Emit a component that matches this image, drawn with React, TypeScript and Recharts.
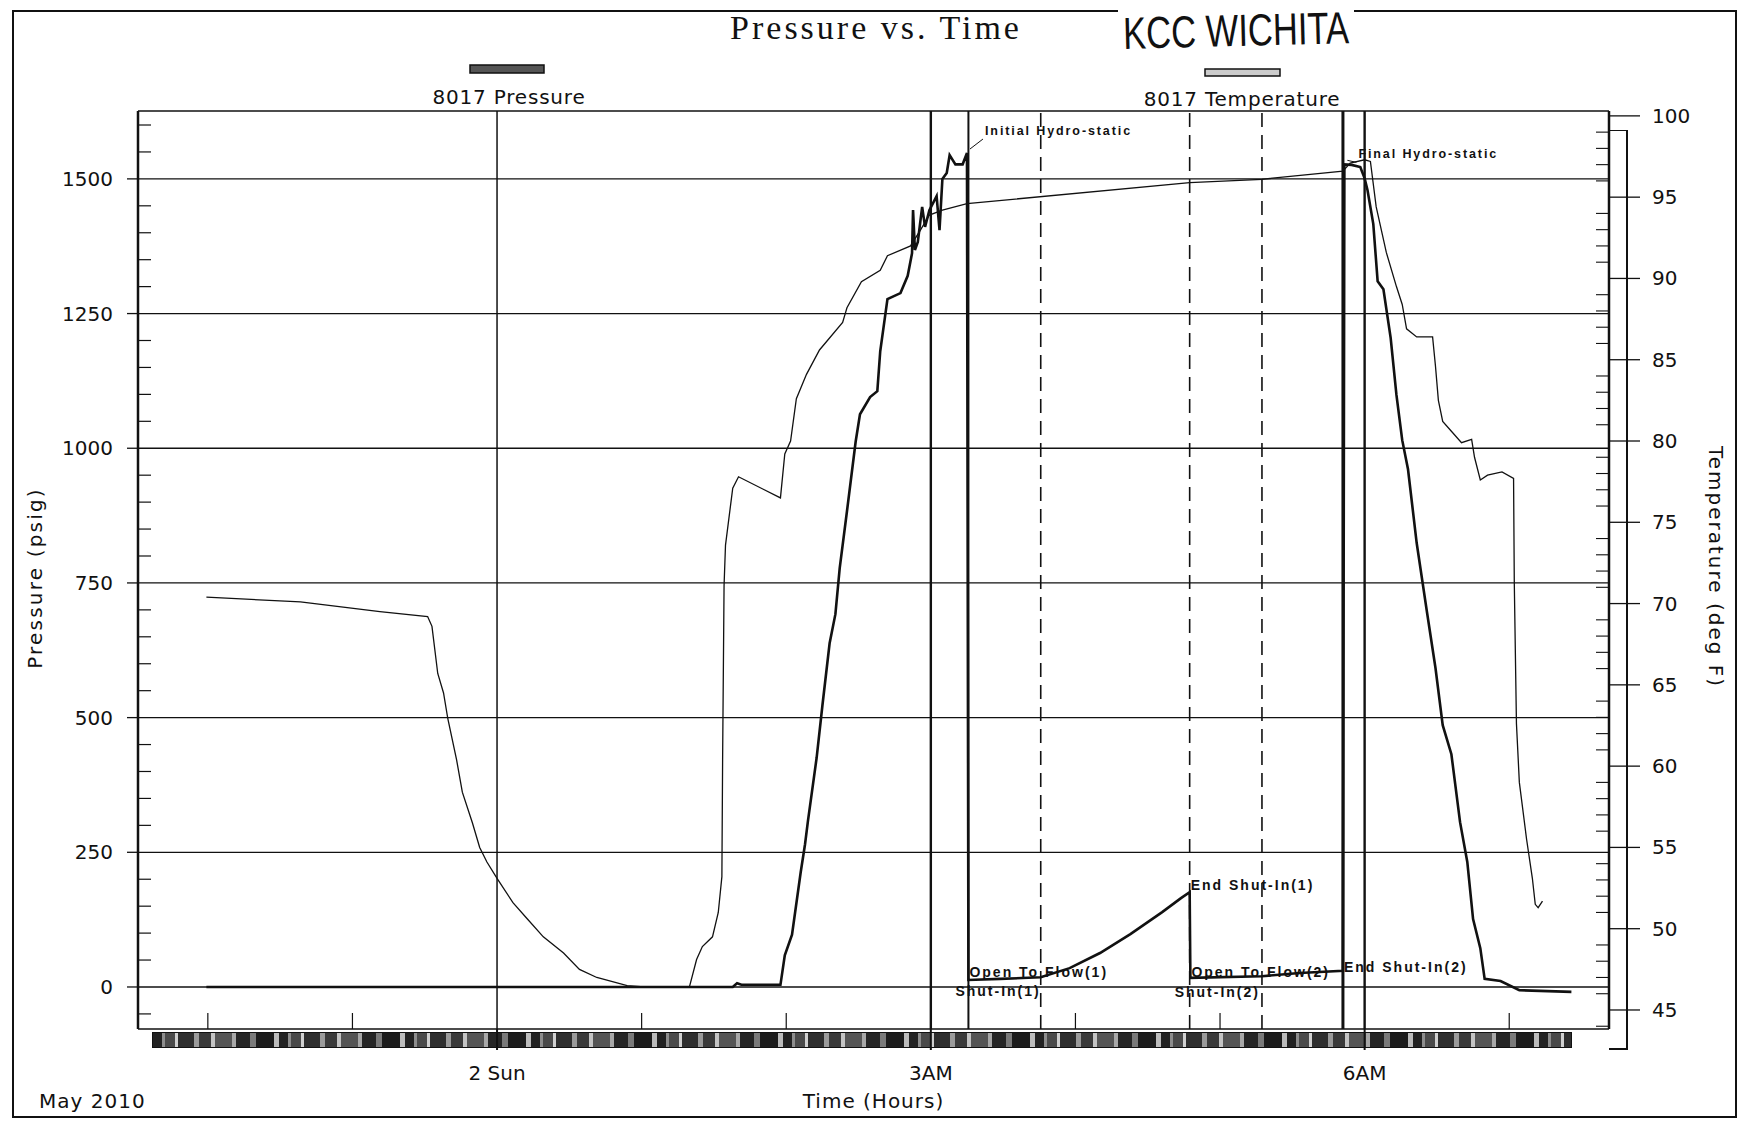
import { LineChart, Line, XAxis, YAxis, ReferenceLine, ReferenceDot } from "recharts";

// time axis: hours after midnight of Sun 2 May 2010
const timeTicks = [-2, -1, 0, 1, 2, 3, 4, 5, 6, 7];
const timeMajorTicks = [0, 3, 6];
const timeMajorLabels = ["2 Sun", "3AM", "6AM"];

const pressureMajorTicks = [0, 250, 500, 750, 1000, 1250, 1500];
const pressureTicks = [
  -50, 0, 50, 100, 150, 200, 250, 300, 350, 400, 450, 500, 550, 600, 650, 700, 750, 800, 850,
  900, 950, 1000, 1050, 1100, 1150, 1200, 1250, 1300, 1350, 1400, 1450, 1500, 1550, 1600,
];
const tempMajorTicks = [45, 50, 55, 60, 65, 70, 75, 80, 85, 90, 95, 100];
const tempTicks = [
  44, 45, 46, 47, 48, 49, 50, 51, 52, 53, 54, 55, 56, 57, 58, 59, 60, 61, 62, 63, 64, 65, 66, 67,
  68, 69, 70, 71, 72, 73, 74, 75, 76, 77, 78, 79, 80, 81, 82, 83, 84, 85, 86, 87, 88, 89, 90, 91,
  92, 93, 94, 95, 96, 97, 98, 99, 100,
];

// 8017 Pressure (psig)
const pressureHours = [
  -2.01, 1.63, 1.66, 1.69, 1.96, 1.99, 2.04, 2.1, 2.13, 2.15, 2.21, 2.25, 2.3, 2.34, 2.37, 2.42,
  2.48, 2.51, 2.58, 2.63, 2.65, 2.7, 2.79, 2.84, 2.87, 2.877, 2.89, 2.91, 2.94, 2.96, 2.99, 3.04,
  3.06, 3.08, 3.11, 3.13, 3.17, 3.22, 3.25, 3.26, 3.48, 3.76, 3.96, 4.17, 4.38, 4.6, 4.73, 4.79,
  4.795, 5.29, 5.55, 5.85, 5.86, 5.91, 5.97, 6.0, 6.02, 6.06, 6.09, 6.13, 6.18, 6.22, 6.26, 6.3,
  6.36, 6.43, 6.49, 6.54, 6.6, 6.66, 6.71, 6.75, 6.8, 6.83, 6.94, 7.07, 7.43,
];
const pressurePsig = [
  0, 0, 7, 4, 4, 59, 97, 213, 265, 308, 425, 522, 638, 692, 778, 883, 1012, 1063, 1095, 1106,
  1180, 1277, 1288, 1320, 1362, 1442, 1368, 1383, 1448, 1411, 1442, 1468, 1405, 1500, 1511, 1544,
  1527, 1527, 1548, 13, 15, 18, 35, 63, 98, 139, 165, 176, 17, 20, 26, 30, 1527, 1526, 1522, 1501,
  1479, 1416, 1310, 1295, 1205, 1099, 1015, 961, 824, 698, 592, 486, 432, 306, 232, 126, 72, 15,
  11, -6, -9,
];

// 8017 Temperature (deg F)
const tempHours = [
  -2.01, -1.36, -0.81, -0.48, -0.45, -0.41, -0.37, -0.34, -0.28, -0.24, -0.17, -0.12, -0.07, 0,
  0.11, 0.21, 0.32, 0.46, 0.57, 0.69, 0.9, 1.04, 1.33, 1.38, 1.42, 1.49, 1.53, 1.555, 1.56, 1.57,
  1.58, 1.63, 1.67, 1.96, 1.99, 2.03, 2.07, 2.14, 2.23, 2.39, 2.42, 2.52, 2.65, 2.7, 2.86, 2.93,
  2.99, 3.08, 3.25, 4.79, 5.29, 5.85, 5.9, 6.0, 6.04, 6.08, 6.15, 6.22, 6.26, 6.29, 6.36, 6.47,
  6.49, 6.51, 6.54, 6.6, 6.67, 6.74, 6.76, 6.8, 6.85, 6.95, 7.03, 7.035, 7.05, 7.07, 7.12, 7.16,
  7.18, 7.2, 7.23,
];
const tempDegF = [
  70.4, 70.1, 69.5, 69.2, 68.6, 65.7, 64.5, 62.9, 60.4, 58.4, 56.5, 55.0, 54.1, 53.1, 51.6, 50.6,
  49.5, 48.5, 47.5, 47.0, 46.5, 46.4, 46.4, 48.1, 48.9, 49.5, 51.0, 53.2, 60.4, 71.1, 73.6, 77.1,
  77.8, 76.5, 79.2, 80.0, 82.6, 84.1, 85.6, 87.3, 88.2, 89.8, 90.5, 91.4, 92.0, 93.0, 93.9, 94.2,
  94.6, 95.9, 96.1, 96.6, 97.1, 97.3, 97.2, 94.4, 91.6, 89.5, 88.4, 86.9, 86.4, 86.4, 84.6, 82.5,
  81.2, 80.6, 79.9, 80.1, 79.0, 77.6, 77.9, 78.1, 77.7, 71.3, 62.6, 59.0, 55.5, 53.1, 51.5, 51.3,
  51.7,
];

// test events (vertical markers)
const eventHours = [3.26, 3.76, 4.79, 5.29, 5.85];
const eventDashed = [false, true, true, true, false];

// annotations on the pressure trace
const annotationLabels = [
  "Initial Hydro-static",
  "Open To Flow(1)",
  "Shut-In(1)",
  "End Shut-In(1)",
  "Open To Flow(2)",
  "Shut-In(2)",
  "End Shut-In(2)",
  "Final Hydro-static",
];
const annotationHours = [3.25, 3.26, 3.76, 4.79, 4.795, 5.29, 5.85, 5.86];
const annotationPsig = [1548, 13, 18, 176, 17, 20, 30, 1527];

const annotationStyle = [
  { dx: 18, dy: -22, anchor: "start", size: 12.5, spacing: 1.9, leader: true },
  { dx: 1, dy: -8, anchor: "start", size: 14, spacing: 2, leader: false },
  { dx: 0, dy: 14, anchor: "end", size: 14, spacing: 2, leader: false },
  { dx: 1, dy: -7, anchor: "start", size: 14, spacing: 2, leader: false },
  { dx: 1, dy: -6, anchor: "start", size: 14, spacing: 2, leader: false },
  { dx: -2, dy: 16, anchor: "end", size: 14, spacing: 2, leader: false },
  { dx: 1, dy: -4, anchor: "start", size: 14, spacing: 2, leader: false },
  { dx: 14, dy: -10, anchor: "start", size: 12.5, spacing: 1.9, leader: true },
];

const pressureData = pressureHours.map((t, i) => ({ t, p: pressurePsig[i] }));
const tempData = tempHours.map((t, i) => ({ t, v: tempDegF[i] }));

const INK = "#111";
const SANS = "'DejaVu Sans', Verdana, sans-serif";
const ARIAL = "'Liberation Sans', Arial, sans-serif";

function PressureTick({ x, y, payload }: any) {
  const v = payload.value;
  if (pressureMajorTicks.includes(v)) {
    return (
      <g>
        <line x1={x - 11} x2={x} y1={y} y2={y} stroke={INK} strokeWidth={1.3} />
        <text x={x - 25} y={y} textAnchor="end" dominantBaseline="central" fontFamily={SANS} fontSize={20} fill={INK}>
          {v}
        </text>
      </g>
    );
  }
  return <line x1={x} x2={x + 13} y1={y} y2={y} stroke={INK} strokeWidth={1.2} />;
}

function TempTick({ x, y, payload }: any) {
  const v = payload.value;
  if (tempMajorTicks.includes(v)) {
    return (
      <g>
        <line x1={x} x2={x + 31} y1={y} y2={y} stroke={INK} strokeWidth={1.3} />
        <text x={x + 43} y={y} textAnchor="start" dominantBaseline="central" fontFamily={SANS} fontSize={20} fill={INK}>
          {v}
        </text>
      </g>
    );
  }
  return <line x1={x - 13} x2={x} y1={y} y2={y} stroke={INK} strokeWidth={1.1} />;
}

function TimeTick({ x, y, payload }: any) {
  const v = payload.value;
  const idx = timeMajorTicks.indexOf(v);
  if (idx >= 0) {
    return (
      <g>
        <line x1={x} x2={x} y1={y} y2={y + 21} stroke={INK} strokeWidth={2} />
        <text x={x} y={y + 44} textAnchor="middle" dominantBaseline="central" fontFamily={SANS} fontSize={20} fill={INK}>
          {timeMajorLabels[idx]}
        </text>
      </g>
    );
  }
  return <line x1={x} x2={x} y1={y - 16} y2={y} stroke={INK} strokeWidth={1.2} />;
}

const pressureAxisLabel = ({ viewBox }: any) => {
  const cx = viewBox.x + 35;
  const cy = viewBox.y + viewBox.height / 2 + 8;
  return (
    <text x={cx} y={cy} transform={`rotate(-90 ${cx} ${cy})`} textAnchor="middle" dominantBaseline="central" fontFamily={SANS} fontSize={20} letterSpacing={2.2} fill={INK}>
      Pressure (psig)
    </text>
  );
};

const tempAxisLabel = ({ viewBox }: any) => {
  const cx = viewBox.x + 107;
  const cy = viewBox.y + viewBox.height / 2 - 3;
  return (
    <text x={cx} y={cy} transform={`rotate(90 ${cx} ${cy})`} textAnchor="middle" dominantBaseline="central" fontFamily={SANS} fontSize={20} letterSpacing={2} fill={INK}>
      Temperature (deg F)
    </text>
  );
};

const timeAxisLabel = ({ viewBox }: any) => {
  const cy = viewBox.y + 72;
  return (
    <g>
      <text x={viewBox.x + viewBox.width / 2} y={cy} textAnchor="middle" dominantBaseline="central" fontFamily={SANS} fontSize={20} letterSpacing={1} fill={INK}>
        Time (Hours)
      </text>
      <text x={viewBox.x - 99} y={cy} textAnchor="start" dominantBaseline="central" fontFamily={SANS} fontSize={20} letterSpacing={1} fill={INK}>
        May 2010
      </text>
    </g>
  );
};

function annotationShape(i: number) {
  const s = annotationStyle[i];
  return (props: any) => {
    const { cx, cy } = props;
    return (
      <g>
        {s.leader && (
          <line x1={cx + 3} y1={cy - 4} x2={cx + s.dx - 2} y2={cy + s.dy + 8} stroke={INK} strokeWidth={1} />
        )}
        <text x={cx + s.dx} y={cy + s.dy} textAnchor={s.anchor as any} dominantBaseline="central" fontFamily={ARIAL} fontWeight="bold" fontSize={s.size} letterSpacing={s.spacing} fill={INK}>
          {annotationLabels[i]}
        </text>
      </g>
    );
  };
}

const PRESSURE_DOMAIN: [number, number] = [-78, 1626];
const TEMP_DOMAIN: [number, number] = [43.83, 100.3];
const TIME_DOMAIN: [number, number] = [-2.483, 7.69];

const bandTexture = [
  "repeating-linear-gradient(90deg, #222 0 9px, #8d8d8d 9px 12px, #4a4a4a 12px 22px, #d0d0d0 22px 25px, #2e2e2e 25px 41px, #9a9a9a 41px 46px, #3a3a3a 46px 58px, #c4c4c4 58px 62px, #555 62px 79px, #a8a8a8 79px 83px, #262626 83px 97px, #7a7a7a 97px 103px, #1c1c1c 103px 121px, #bcbcbc 121px 126px)",
  "repeating-linear-gradient(0deg, rgba(255,255,255,0.18) 0 2px, rgba(0,0,0,0) 2px 5px)",
].join(", ");

export default function App() {
  return (
    <div style={{ position: "absolute", left: 0, top: 0, width: 1742, height: 1124, background: "#fff", overflow: "hidden" }}>
      {/* page frame */}
      <div style={{ position: "absolute", left: 12, top: 10, width: 1725, height: 1108, border: `2px solid ${INK}`, boxSizing: "border-box" }} />
      {/* time scroll band under the plot */}
      <div
        style={{
          position: "absolute",
          left: 152,
          top: 1032,
          width: 1420,
          height: 16,
          border: `1px solid ${INK}`,
          boxSizing: "border-box",
          background: bandTexture,
        }}
      />
      {/* temperature axis box */}
      <div style={{ position: "absolute", left: 1609, top: 130, width: 19, height: 920, borderTop: `1.5px solid ${INK}`, borderRight: `2px solid ${INK}`, borderBottom: `2px solid ${INK}`, boxSizing: "border-box" }} />

      <div style={{ position: "absolute", left: 0, top: 0 }}>
        <LineChart width={1742} height={1124} margin={{ top: 111, right: 0, bottom: 0, left: 0 }}>
          <XAxis
            dataKey="t"
            type="number"
            domain={TIME_DOMAIN}
            allowDataOverflow
            ticks={timeTicks}
            interval={0}
            height={95}
            tickSize={0}
            tickMargin={0}
            tickLine={false}
            axisLine={{ stroke: INK, strokeWidth: 1.5 }}
            tick={<TimeTick />}
            label={{ content: timeAxisLabel }}
          />
          <YAxis
            yAxisId="p"
            orientation="left"
            width={138}
            type="number"
            domain={PRESSURE_DOMAIN}
            allowDataOverflow
            ticks={pressureTicks}
            interval={0}
            tickSize={0}
            tickMargin={0}
            tickLine={false}
            axisLine={{ stroke: INK, strokeWidth: 2.5 }}
            tick={<PressureTick />}
            label={{ content: pressureAxisLabel }}
          />
          <YAxis
            yAxisId="t"
            orientation="right"
            width={133}
            type="number"
            domain={TEMP_DOMAIN}
            allowDataOverflow
            ticks={tempTicks}
            interval={0}
            tickSize={0}
            tickMargin={0}
            tickLine={false}
            axisLine={{ stroke: INK, strokeWidth: 2.5 }}
            tick={<TempTick />}
            label={{ content: tempAxisLabel }}
          />

          {/* plot frame top */}
          <ReferenceLine yAxisId="p" y={PRESSURE_DOMAIN[1]} stroke={INK} strokeWidth={1.5} />
          {pressureMajorTicks.map((v) => (
            <ReferenceLine key={`pg${v}`} yAxisId="p" y={v} stroke={INK} strokeWidth={1.3} />
          ))}
          {timeMajorTicks.map((v) => (
            <ReferenceLine key={`tg${v}`} yAxisId="p" x={v} stroke={INK} strokeWidth={v === 0 ? 1.5 : 2.4} />
          ))}
          {eventHours.map((h, i) => (
            <ReferenceLine
              key={`ev${i}`}
              yAxisId="p"
              x={h}
              stroke={INK}
              strokeWidth={eventDashed[i] ? 1.6 : i === 4 ? 3 : 2}
              strokeDasharray={eventDashed[i] ? "14 8" : undefined}
            />
          ))}

          <Line
            yAxisId="t"
            data={tempData}
            dataKey="v"
            type="linear"
            stroke={INK}
            strokeWidth={1.3}
            dot={false}
            isAnimationActive={false}
          />
          <Line
            yAxisId="p"
            data={pressureData}
            dataKey="p"
            type="linear"
            stroke={INK}
            strokeWidth={2.6}
            dot={false}
            isAnimationActive={false}
          />

          {annotationLabels.map((lab, i) => (
            <ReferenceDot
              key={lab}
              yAxisId="p"
              x={annotationHours[i]}
              y={annotationPsig[i]}
              r={0}
              shape={annotationShape(i)}
            />
          ))}
        </LineChart>
      </div>

      {/* title, stamp and legend */}
      <svg width={1742} height={110} style={{ position: "absolute", left: 0, top: 0, pointerEvents: "none" }}>
        <text x={876} y={39} textAnchor="middle" fontFamily="'Liberation Serif', 'Times New Roman', serif" fontSize={34} letterSpacing={3} fill={INK}>
          Pressure vs. Time
        </text>
        <rect x={1118} y={4} width={236} height={44} fill="#fff" />
        <text
          x={1123}
          y={46}
          textLength={226}
          lengthAdjust="spacingAndGlyphs"
          transform="rotate(-1.5 1236 30)"
          fontFamily="'Liberation Sans Narrow', 'Liberation Sans', Arial, sans-serif"
          fontSize={45}
          fill={INK}
        >
          KCC WICHITA
        </text>
        <rect x={470} y={65} width={74} height={8} fill="#555" stroke={INK} strokeWidth={1.5} />
        <text x={509} y={97} textAnchor="middle" dominantBaseline="central" fontFamily={SANS} fontSize={20} letterSpacing={0.8} fill={INK}>
          8017 Pressure
        </text>
        <rect x={1205} y={69} width={75} height={7} fill="#ccc" stroke={INK} strokeWidth={1.5} />
        <text x={1242} y={99} textAnchor="middle" dominantBaseline="central" fontFamily={SANS} fontSize={20} letterSpacing={0.8} fill={INK}>
          8017 Temperature
        </text>
      </svg>
    </div>
  );
}
